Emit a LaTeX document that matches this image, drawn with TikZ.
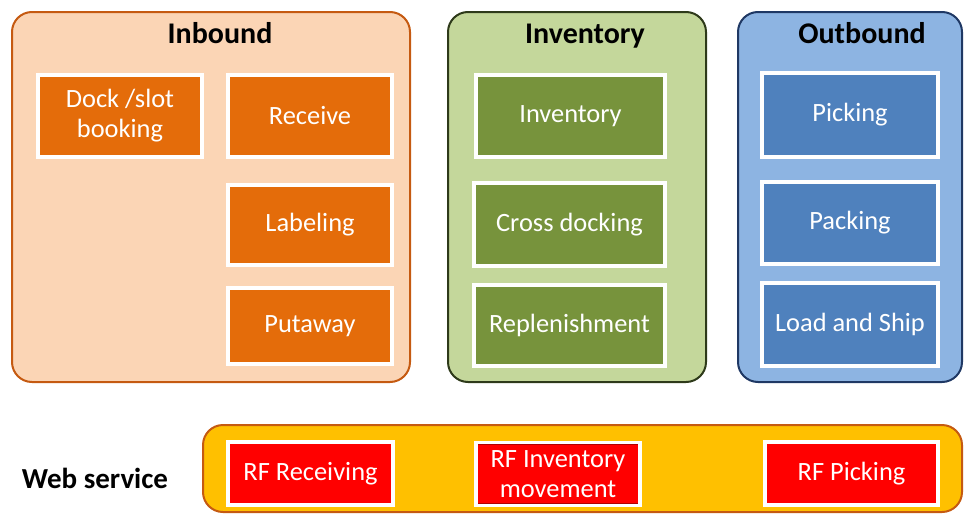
\documentclass[tikz,border=0pt]{standalone}
\usepackage{fontspec}
\setmainfont{Carlito}
\definecolor{inbg}{HTML}{FBD5B5}
\definecolor{inbd}{HTML}{C55A11}
\definecolor{inbox}{HTML}{E46C0A}
\definecolor{inboxd}{HTML}{A84C08}
\definecolor{ivbg}{HTML}{C4D79B}
\definecolor{ivbd}{HTML}{2E3A1A}
\definecolor{ivbox}{HTML}{77933C}
\definecolor{ivboxd}{HTML}{4F6228}
\definecolor{obbg}{HTML}{8DB4E2}
\definecolor{obbd}{HTML}{1F3864}
\definecolor{obbox}{HTML}{4F81BD}
\definecolor{obboxd}{HTML}{2C4D75}
\definecolor{wsbg}{HTML}{FFC000}
\definecolor{wsbd}{HTML}{C55A11}
\definecolor{rfbox}{HTML}{FF0000}
\definecolor{rfboxd}{HTML}{B00000}
\tikzset{
  panel/.style={rounded corners=10pt, line width=1pt, inner sep=0pt},
  title/.style={font=\fontsize{15}{17}\selectfont\bfseries, text=black, anchor=base},
  sbox/.style 2 args={fill=#1, draw=white, line width=1.6pt, text=white, align=center,
    font=\fontsize{13.2}{15}\selectfont, inner sep=1pt,
    path picture={\draw[#2, line width=0.5pt]
      ([shift={(0.9pt,-0.9pt)}]path picture bounding box.north west) rectangle
      ([shift={(-0.9pt,0.9pt)}]path picture bounding box.south east);}},
  ibox/.style={sbox={inbox}{inboxd}},
  gbox/.style={sbox={ivbox}{ivboxd}},
  bbox/.style={sbox={obbox}{obboxd}},
  rbox/.style={sbox={rfbox}{rfboxd}},
}
\begin{document}
\begin{tikzpicture}[x=0.5pt,y=-0.5pt]
\useasboundingbox (0,0) rectangle (968,514);
% panels
\node[panel, fill=inbg, draw=inbd, minimum width=199pt, minimum height=185pt] (inb) at (211,197) {};
\node[panel, fill=ivbg, draw=ivbd, minimum width=129pt, minimum height=185pt] (inv) at (577,197) {};
\node[panel, fill=obbg, draw=obbd, minimum width=112pt, minimum height=185pt] (outb) at (850,197) {};
\node[panel, fill=wsbg, draw=wsbd, minimum width=379.5pt, minimum height=43.5pt] (ws) at (582.5,468.5) {};
% titles
\node[title] (tinb) at (220,43) {Inbound};
\node[title] (tinv) at (585,43) {Inventory};
\node[title] (toutb) at (862,43) {Outbound};
\node[font=\fontsize{14.5}{16}\selectfont\bfseries] (tws) at (95,478) {Web service};
% inbound
\node[ibox, minimum width=82pt, minimum height=41pt] (dock) at (120,116) {Dock /slot\\booking};
\node[ibox, minimum width=82pt, minimum height=41pt] (recv) at (310,116) {Receive};
\node[ibox, minimum width=82pt, minimum height=40pt] (label) at (310,225) {Labeling};
\node[ibox, minimum width=82pt, minimum height=38pt] (put) at (310,326) {Putaway};
% inventory
\node[gbox, minimum width=94.5pt, minimum height=41pt] (invb) at (570.5,116) {Inventory};
\node[gbox, minimum width=95.5pt, minimum height=41.5pt] (cross) at (569.5,224.5) {Cross docking};
\node[gbox, minimum width=95.5pt, minimum height=40.5pt] (repl) at (569.5,325.5) {Replenishment};
% outbound
\node[bbox, minimum width=88pt, minimum height=42pt] (pick) at (850,115) {Picking};
\node[bbox, minimum width=88pt, minimum height=41pt] (pack) at (850,223) {Packing};
\node[bbox, minimum width=88pt, minimum height=41.5pt] (ship) at (850,324.5) {Load and Ship};
% web service
\node[rbox, minimum width=82.5pt, minimum height=31.5pt] (rfr) at (310.5,473.5) {RF Receiving};
\node[rbox, minimum width=82pt, minimum height=31.5pt] (rfi) at (558,474) {RF Inventory\\movement};
\node[rbox, minimum width=86.5pt, minimum height=31.5pt] (rfp) at (851.5,473.5) {RF Picking};
\end{tikzpicture}
\end{document}
